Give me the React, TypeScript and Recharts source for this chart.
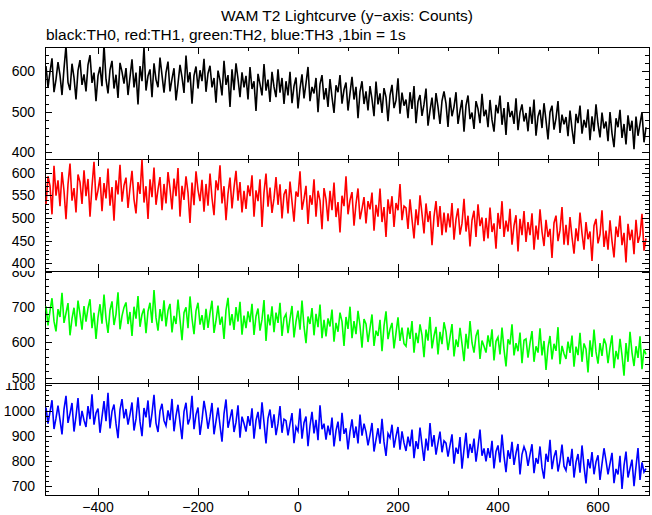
import React from "react";
import { LineChart, Line, XAxis, YAxis, ReferenceArea } from "recharts";

// 1 bin = 1s; values read every 4th bin off the plot
const BIN_START = -504;
const BIN_STEP = 4;

const TH0 = [
  612, 560, 598, 631, 548, 579, 622, 590, 541, 606, 662, 572, 553, 618, 584, 530, 601, 627, 566, 592,
  550, 615, 639, 571, 596, 526, 588, 610, 563, 665, 580, 545, 603, 625, 557, 591, 534, 620, 598, 569,
  607, 541, 585, 629, 560, 596, 518, 612, 575, 658, 552, 588, 604, 536, 619, 579, 560, 633, 590, 547,
  596, 623, 550, 581, 607, 528, 569, 615, 585, 546, 638, 572, 597, 520, 589, 611, 557, 602, 575, 630,
  549, 594, 613, 560, 583, 522, 601, 577, 540, 625, 566, 590, 512, 604, 553, 619, 581, 536, 597, 560,
  588, 530, 610, 556, 575, 502, 593, 568, 540, 617, 552, 579, 524, 598, 561, 536, 604, 547, 583, 519,
  575, 540, 598, 521, 563, 584, 508, 557, 592, 533, 570, 610, 526, 561, 545, 583, 499, 568, 590, 530,
  558, 512, 580, 536, 497, 565, 548, 590, 520, 554, 572, 503, 545, 586, 530, 561, 484, 549, 575, 519,
  550, 503, 563, 531, 489, 574, 518, 545, 497, 558, 536, 477, 540, 566, 509, 528, 582, 495, 547, 515,
  530, 484, 548, 507, 563, 472, 525, 541, 490, 518, 557, 466, 503, 535, 481, 546, 512, 470, 527, 550,
  520, 463, 535, 489, 512, 548, 470, 502, 529, 451, 515, 540, 482, 498, 458, 526, 507, 472, 544, 489,
  505, 462, 529, 480, 451, 517, 496, 540, 468, 509, 443, 524, 487, 502, 470, 533, 455, 498, 518, 476,
  497, 452, 512, 470, 530, 441, 488, 505, 460, 521, 479, 432, 499, 515, 456, 484, 526, 448, 493, 469,
  487, 440, 503, 458, 421, 495, 472, 515, 446, 480, 461, 506, 430, 489, 452, 518, 470, 437, 498, 459,
  476, 428, 499, 447, 413, 484, 462, 505, 436, 470, 420, 491, 453, 478, 408, 488, 441, 470, 499, 425,
  462,
];

const TH1 = [
  530, 592, 571, 508, 615, 549, 583, 526, 601, 560, 497, 574, 620, 538, 566, 512, 596, 579, 531, 605,
  548, 586, 503, 570, 624, 539, 561, 590, 515, 577, 543, 609, 527, 568, 494, 583, 552, 617, 536, 572,
  589, 522, 566, 604, 541, 510, 579, 553, 628, 534, 570, 498, 585, 546, 611, 529, 563, 590, 517, 575,
  532, 601, 565, 519, 587, 548, 610, 503, 571, 540, 592, 556, 489, 578, 528, 603, 562, 537, 584, 514,
  575, 527, 598, 544, 506, 583, 561, 616, 532, 570, 495, 553, 589, 521, 567, 604, 538, 579, 512, 560,
  520, 572, 548, 594, 503, 561, 537, 585, 480, 556, 598, 525, 567, 511, 543, 590, 529, 574, 499, 552,
  563, 510, 580, 536, 492, 558, 547, 603, 518, 542, 571, 487, 550, 529, 585, 503, 560, 538, 475, 566,
  541, 493, 560, 517, 578, 502, 535, 468, 549, 526, 592, 508, 539, 557, 483, 531, 565, 497, 520, 546,
  488, 537, 519, 556, 472, 529, 503, 565, 491, 524, 458, 541, 509, 548, 480, 533, 517, 575, 495, 526,
  522, 476, 541, 497, 455, 519, 484, 550, 509, 466, 532, 491, 515, 440, 503, 537, 480, 526, 462, 512,
  468, 510, 479, 533, 452, 497, 521, 463, 488, 542, 470, 505, 437, 495, 516, 458, 530, 482, 501, 449,
  500, 455, 523, 469, 488, 432, 511, 476, 537, 458, 494, 470, 520, 441, 483, 506, 426, 498, 462, 515,
  447, 491, 462, 510, 430, 483, 452, 519, 470, 438, 496, 458, 476, 412, 489, 505, 449, 473, 524, 441,
  485, 440, 502, 458, 421, 477, 449, 512, 466, 430, 491, 453, 470, 405, 483, 498, 444, 463, 517, 436,
  472, 430, 495, 449, 413, 481, 458, 505, 440, 467, 402, 487, 451, 474, 420, 496, 445, 462, 509, 428,
  455,
];

const TH2 = [
  702, 648, 689, 725, 660, 631, 694, 672, 740, 655, 683, 711, 620, 667, 698, 645, 718, 679, 636, 703,
  659, 697, 722, 640, 684, 610, 671, 708, 653, 735, 668, 627, 691, 716, 649, 680, 742, 637, 675, 699,
  713, 652, 686, 618, 701, 667, 731, 644, 679, 696, 626, 688, 712, 655, 748, 670, 633, 694, 660, 719,
  645, 690, 709, 628, 675, 652, 721, 664, 606, 684, 699, 640, 730, 668, 623, 689, 712, 650, 677, 635,
  695, 641, 683, 718, 627, 662, 704, 650, 673, 610, 691, 726, 648, 680, 635, 700, 659, 715, 622, 676,
  640, 688, 657, 709, 621, 674, 696, 633, 665, 720, 604, 679, 648, 702, 629, 684, 655, 712, 618, 669,
  680, 626, 667, 703, 614, 659, 690, 636, 718, 645, 598, 673, 652, 697, 620, 681, 643, 707, 612, 664,
  617, 668, 645, 693, 602, 655, 630, 684, 659, 590, 672, 638, 701, 612, 660, 623, 689, 647, 585, 666,
  652, 601, 640, 679, 590, 633, 618, 664, 575, 646, 688, 609, 637, 655, 583, 627, 671, 604, 642, 596,
  589, 642, 610, 660, 571, 627, 598, 651, 620, 558, 636, 605, 672, 583, 618, 644, 566, 630, 595, 657,
  630, 578, 615, 652, 560, 608, 587, 641, 596, 547, 624, 582, 660, 599, 571, 618, 636, 553, 605, 589,
  571, 620, 588, 637, 549, 603, 615, 566, 642, 580, 532, 609, 594, 651, 563, 598, 575, 628, 541, 606,
  610, 557, 598, 632, 545, 589, 571, 640, 563, 604, 522, 585, 618, 552, 596, 576, 643, 538, 590, 568,
  553, 602, 570, 619, 531, 588, 564, 627, 545, 597, 581, 515, 606, 559, 636, 573, 540, 598, 562, 611,
  594, 541, 585, 620, 527, 576, 552, 610, 563, 506, 598, 545, 630, 571, 533, 589, 556, 617, 524, 580,
  566,
];

const TH3 = [
  1012, 948, 995, 1041, 927, 970, 1020, 963, 906, 1005, 1058, 951, 988, 1030, 917, 977, 1049, 940, 999, 962,
  935, 1018, 966, 1064, 944, 990, 1008, 912, 975, 1037, 958, 1070, 929, 997, 1024, 948, 891, 1003, 1045, 969,
  1006, 944, 985, 1032, 921, 967, 1052, 956, 899, 1010, 973, 1040, 933, 989, 1062, 950, 915, 998, 1027, 960,
  940, 1001, 962, 1046, 918, 979, 1023, 953, 887, 996, 1031, 945, 970, 1058, 926, 984, 1012, 904, 963, 1038,
  991, 928, 975, 1030, 906, 958, 1012, 941, 877, 987, 1044, 932, 968, 1005, 915, 954, 1021, 893, 976, 949,
  917, 978, 940, 1009, 889, 961, 995, 926, 1033, 952, 870, 969, 1004, 931, 985, 903, 948, 1018, 912, 966,
  960, 902, 947, 990, 871, 935, 918, 1008, 889, 952, 976, 859, 940, 995, 910, 963, 883, 1021, 926, 948,
  885, 940, 903, 972, 858, 921, 956, 879, 991, 908, 930, 846, 917, 965, 892, 937, 870, 984, 901, 948,
  916, 862, 903, 951, 838, 885, 930, 869, 967, 876, 821, 909, 892, 944, 853, 898, 935, 845, 918, 872,
  840, 897, 858, 925, 812, 879, 848, 933, 864, 801, 889, 842, 951, 857, 903, 826, 872, 917, 835, 880,
  871, 818, 862, 906, 790, 853, 829, 895, 770, 846, 912, 812, 868, 833, 889, 798, 857, 925, 821, 850,
  799, 851, 813, 880, 771, 838, 862, 795, 905, 820, 756, 843, 809, 876, 785, 832, 868, 747, 827, 857,
  835, 781, 826, 867, 752, 812, 790, 858, 774, 731, 829, 797, 884, 768, 817, 843, 759, 801, 865, 780,
  763, 817, 781, 849, 735, 796, 828, 754, 862, 779, 712, 808, 771, 836, 748, 797, 823, 726, 789, 851,
  802, 748, 790, 833, 713, 769, 747, 821, 690, 782, 838, 735, 771, 806, 701, 778, 852, 726, 795, 757,
  770,
];

const TIMES = TH0.map((_, i) => BIN_START + i * BIN_STEP);

const X_DOMAIN: [number, number] = [-506, 702];
const X_MAJOR = [-400, -200, 0, 200, 400, 600];
const X_MINOR = [-300, -100, 100, 300, 500];

const TH0_MAJOR = [400, 500, 600];
const TH1_MAJOR = [400, 450, 500, 550, 600];
const TH2_MAJOR = [500, 600, 700, 800];
const TH3_MAJOR = [700, 800, 900, 1000, 1100];

const FONT = '"Liberation Sans", Arial, Helvetica, sans-serif';

const data = TIMES.map((t, i) => ({
  t,
  th0: TH0[i],
  th1: TH1[i],
  th2: TH2[i],
  th3: TH3[i],
}));

function range(from: number, to: number, step: number) {
  const out: number[] = [];
  for (let v = from; v <= to; v += step) out.push(v);
  return out;
}

const panels = [
  { key: "th0", color: "#000000", domain: [384, 659], major: TH0_MAJOR, ticks: range(400, 640, 20) },
  { key: "th1", color: "#ff0000", domain: [383, 630], major: TH1_MAJOR, ticks: range(390, 620, 10) },
  { key: "th2", color: "#00ff00", domain: [485, 802], major: TH2_MAJOR, ticks: range(500, 800, 20) },
  { key: "th3", color: "#0000ff", domain: [666, 1109], major: TH3_MAJOR, ticks: range(680, 1100, 20) },
];

const PANEL_TOP = 47;
const PANEL_H = 112;
const PLOT_LEFT = 45;
const PLOT_W = 604;
const X_TICKS = [...X_MAJOR, ...X_MINOR].sort((a, b) => a - b);

function xLabel(props: any) {
  const { x, y, payload } = props;
  if (!X_MAJOR.includes(payload.value)) return <g />;
  return (
    <text x={x} y={y + 17} textAnchor="middle" fontSize={14} fontFamily={FONT} fill="#000">
      {payload.value < 0 ? "\u2212" + Math.abs(payload.value) : payload.value}
    </text>
  );
}

function yLabel(major: number[]) {
  return (props: any) => {
    const { x, y, payload } = props;
    if (!major.includes(payload.value)) return <g />;
    return (
      <text x={x - 10} y={y + 5} textAnchor="end" fontSize={14} fontFamily={FONT} fill="#000">
        {payload.value}
      </text>
    );
  };
}

// inward tick marks of the four panel frames (same layout as the charts' plot areas)
function tickPath() {
  const [x0, x1] = X_DOMAIN;
  const parts: string[] = [];
  panels.forEach((p, i) => {
    const top = PANEL_TOP + i * PANEL_H;
    const bottom = top + PANEL_H;
    const [y0, y1] = p.domain;
    X_TICKS.forEach((t) => {
      const len = X_MAJOR.includes(t) ? 7 : 4;
      const px = Math.round(PLOT_LEFT + ((t - x0) / (x1 - x0)) * PLOT_W) + 0.5;
      parts.push(`M${px} ${bottom}V${bottom - len}M${px} ${top}V${top + len}`);
    });
    p.ticks.forEach((v) => {
      const len = p.major.includes(v) ? 7 : 4;
      const py = Math.round(top + ((y1 - v) / (y1 - y0)) * PANEL_H) + 0.5;
      parts.push(`M${PLOT_LEFT} ${py}H${PLOT_LEFT + len}M${PLOT_LEFT + PLOT_W} ${py}H${PLOT_LEFT + PLOT_W - len}`);
    });
  });
  return parts.join("");
}

export default function App() {
  return (
    <div
      style={{
        position: "absolute",
        left: 0,
        top: 0,
        width: 652,
        height: 515,
        background: "#fff",
        fontFamily: FONT,
        overflow: "hidden",
      }}
    >
      <div style={{ position: "absolute", left: 45, width: 604, top: 7, textAlign: "center", fontSize: 15.5, lineHeight: "17px" }}>
        WAM T2 Lightcurve (y−axis: Counts)
      </div>
      <div style={{ position: "absolute", left: 46, top: 26, fontSize: 15.5, lineHeight: "17px" }}>
        black:TH0, red:TH1, green:TH2, blue:TH3 ,1bin = 1s
      </div>
      {panels.map((p, i) => {
        const last = i === panels.length - 1;
        return (
          <div key={p.key} style={{ position: "absolute", left: 0, top: PANEL_TOP + i * PANEL_H }}>
            <LineChart
              width={652}
              height={PANEL_H + (last ? 20 : 0)}
              data={data}
              margin={{ top: 0, right: 3, bottom: 0, left: 0 }}
            >
              <XAxis
                dataKey="t"
                type="number"
                domain={X_DOMAIN}
                allowDataOverflow
                ticks={X_TICKS}
                interval={0}
                height={last ? 20 : 0}
                tickSize={0}
                tickMargin={0}
                axisLine={false}
                tick={last ? xLabel : false}
              />
              <YAxis
                type="number"
                domain={p.domain}
                allowDataOverflow
                ticks={p.ticks}
                interval={0}
                width={45}
                tickSize={0}
                tickMargin={0}
                axisLine={false}
                tick={yLabel(p.major)}
              />
              <Line
                dataKey={p.key}
                stroke={p.color}
                strokeWidth={1.6}
                dot={false}
                isAnimationActive={false}
                type="linear"
              />
              <ReferenceArea
                x1={X_DOMAIN[0]}
                x2={X_DOMAIN[1]}
                y1={p.domain[0]}
                y2={p.domain[1]}
                ifOverflow="visible"
                fill="none"
                fillOpacity={0}
                stroke="#000"
                strokeWidth={1}
                shapeRendering="crispEdges"
              />
            </LineChart>
          </div>
        );
      })}
      <svg
        width={652}
        height={515}
        style={{ position: "absolute", left: 0, top: 0, pointerEvents: "none" }}
      >
        <path d={tickPath()} fill="none" stroke="#000" strokeWidth={1} />
      </svg>
    </div>
  );
}
